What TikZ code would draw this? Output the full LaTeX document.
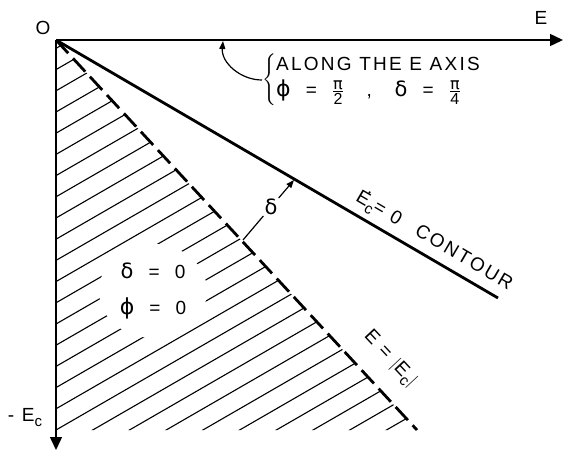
\documentclass[tikz,border=0pt]{standalone}
\usepackage{fontspec}
\usepackage{amsmath}
\setmainfont{Liberation Sans}[LetterSpace=12]
\newfontfamily\gk{DejaVu Sans}
\newcommand{\gd}{{\gk\fontsize{21}{22}\selectfont δ}}
\newcommand{\gf}{{\gk\fontsize{22}{22}\selectfont ϕ}}
\newcommand{\gfr}[2]{\ensuremath{\genfrac{}{}{1.1pt}{}{\hbox{\gk\fontsize{16}{16}\selectfont #1}}{\hbox{\fontsize{16}{16}\selectfont #2}}}}
\newcommand{\sub}[1]{\raisebox{-5pt}{\fontsize{15}{15}\selectfont #1}}
\usetikzlibrary{arrows.meta,shapes.geometric}
\begin{document}
\begin{tikzpicture}[x=1pt,y=-1pt,
  axis/.style={line width=1.5pt},
  bigtip/.style={-{Triangle[length=13pt,width=12pt]}},
  smalltip/.style={-{Triangle[length=8pt,width=6pt]}},
  hatch/.style={line width=1.1pt},
  thickline/.style={line width=2.8pt},
  dashline/.style={line width=2.8pt, dash pattern=on 18pt off 7pt},
  thin/.style={line width=1.2pt},
  lbl/.style={font=\fontsize{19}{22}\selectfont, inner sep=1pt}]
\useasboundingbox (0,0) rectangle (563,453);
\coordinate (O) at (56,40);
\coordinate (Eend) at (563,40);
\coordinate (Ecend) at (56,450);
\coordinate (S) at (498,298);
\coordinate (D) at (417,430);
\coordinate (B) at (56,430);
% hatching
\begin{scope}
\clip (O) -- (D) -- (B) -- cycle;
\foreach \k in {-12,...,18} {\draw[hatch] (56,{430-21.2*\k}) -- ++(600,-346.4);}
\end{scope}
% text in the hatched area
\node[lbl, ellipse, fill=white, align=center, minimum width=108pt, minimum height=94pt] (zero) at (153,291)
  {\gd\ \ =\ \ 0\\[14pt]\gf\ \ =\ \ 0};
% lines
\draw[dashline] (O) -- (D);
\draw[thickline] (O) -- (S);
\draw[axis,bigtip] (O) -- (Eend);
\draw[axis,bigtip] (O) -- (Ecend);
% axis labels
\node[lbl] (Olbl) at (43,28) {O};
\node[lbl] (Elbl) at (541,18) {E};
\node[lbl] (Eclbl) at (25,418) {- E\sub{c}};
% delta arrow
\coordinate (dp) at (243,240);
\coordinate (sp) at (294,180);
\node[lbl] (dlt) at (271,207) {\gd};
\draw[thin] (dp) -- (dlt);
\draw[thin,smalltip] (dlt) -- (sp);
% line labels
\node[lbl, rotate=-30.3] (cont) at (434,241) {E\llap{\raisebox{13pt}{.}\hspace{1pt}}\sub{c}= 0\quad CONTOUR};
\node[lbl, rotate=-47] (ec) at (390,359) {E = $|$E\sub{c}$|$};
% annotation
\node[lbl, anchor=west, inner sep=0pt] (note) at (262,80)
  {$\left\{\begin{tabular}{@{}l@{}}ALONG THE E AXIS\\[2pt] \gf\ \ =\ \ \gfr{π}{2}\ \ \ ,\ \ \ \gd\ \ =\ \ \gfr{π}{4}\end{tabular}\right.$};
\coordinate (ax) at (223,41);
\draw[thin,smalltip] (note.west) to[out=180,in=-95] (ax);
\end{tikzpicture}
\end{document}
